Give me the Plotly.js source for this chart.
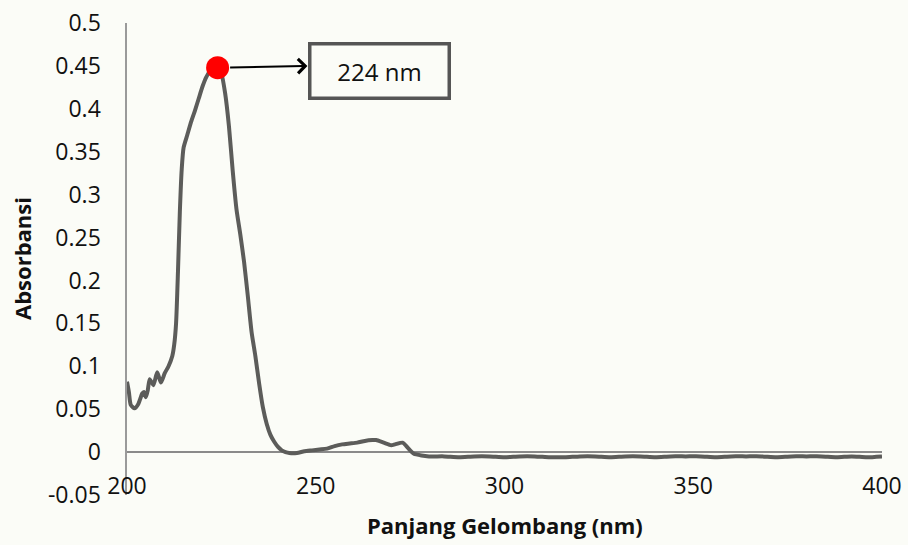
<!DOCTYPE html>
<html>
<head>
<meta charset="utf-8">
<script src="https://cdn.plot.ly/plotly-3.0.1.min.js"></script>
<style>
  html, body { margin: 0; padding: 0; background: #fbfcf7; }
  #chart { width: 908px; height: 545px; }
</style>
</head>
<body>
<div id="chart"></div>
<script>
// UV-Vis absorption spectrum
const wavelength = [
  200, 200.5, 201, 202, 203, 203.5, 204, 204.5, 205, 205.5, 206, 207, 208, 209, 210,
  211, 212, 212.5, 213, 213.5, 214, 214.5, 215, 216, 217, 218, 219, 220, 221, 222,
  223, 224, 225, 226, 227, 228, 229, 230, 231, 232, 233, 234, 235, 236, 237,
  238, 239, 240, 241, 242, 243, 245, 247, 249, 251, 253, 255, 257, 259, 261,
  263, 265, 266, 268, 270, 271, 273, 274, 275, 276, 278, 280,
  284, 288, 292, 296, 300, 304, 308, 312, 316, 320, 324, 328, 332, 336, 340,
  344, 348, 352, 356, 360, 364, 368, 372, 376, 380, 384, 388, 392, 396, 400
];
const absorbance = [
  0.082, 0.070, 0.055, 0.051, 0.056, 0.062, 0.068, 0.070, 0.064, 0.072, 0.085, 0.078, 0.093, 0.081, 0.092,
  0.100, 0.112, 0.125, 0.150, 0.210, 0.280, 0.330, 0.355, 0.370, 0.385, 0.398, 0.412, 0.426, 0.437, 0.444,
  0.447, 0.448, 0.441, 0.418, 0.380, 0.328, 0.283, 0.254, 0.222, 0.182, 0.140, 0.112, 0.080, 0.052, 0.033,
  0.020, 0.012, 0.006, 0.002, 0.000, -0.001, -0.001, 0.001, 0.002, 0.003, 0.004, 0.007, 0.009, 0.010, 0.011,
  0.013, 0.014, 0.014, 0.011, 0.008, 0.009, 0.011, 0.007, 0.002, -0.002, -0.004, -0.005,
  -0.005, -0.006, -0.005, -0.005, -0.006, -0.005, -0.005, -0.006, -0.006, -0.005, -0.005, -0.006, -0.005, -0.005, -0.006,
  -0.005, -0.005, -0.005, -0.006, -0.005, -0.005, -0.005, -0.006, -0.005, -0.005, -0.005, -0.006, -0.005, -0.006, -0.005
];

// Absorption maximum
const peakNm = 224;
const peakAbs = 0.448;

const xTicks = [200, 250, 300, 350, 400];
const yTicks = [-0.05, 0, 0.05, 0.1, 0.15, 0.2, 0.25, 0.3, 0.35, 0.4, 0.45, 0.5];
const yTickText = ['-0.05', '0', '0.05', '0.1', '0.15', '0.2', '0.25', '0.3', '0.35', '0.4', '0.45', '0.5'];

const xTitle = 'Panjang Gelombang (nm)';
const yTitle = 'Absorbansi';

const FONT = '"Open Sans", "Noto Sans", sans-serif';
const BG = '#fbfcf7';

const spectrum = {
  x: wavelength,
  y: absorbance,
  type: 'scatter',
  mode: 'lines',
  line: { color: '#5c5c5a', width: 4, shape: 'spline', smoothing: 0.6 },
  hoverinfo: 'skip'
};

const peak = {
  x: [peakNm],
  y: [peakAbs],
  type: 'scatter',
  mode: 'markers',
  marker: { color: '#ff0000', size: 23, line: { width: 0 } },
  hoverinfo: 'skip'
};

const layout = {
  width: 908,
  height: 545,
  margin: { l: 127, r: 26, t: 23, b: 50 },
  paper_bgcolor: BG,
  plot_bgcolor: 'rgba(0,0,0,0)',
  showlegend: false,
  font: { family: FONT, size: 22, color: '#111111' },
  xaxis: {
    range: [200, 400],
    tickvals: xTicks,
    ticktext: xTicks.map(String),
    ticks: '',
    ticklabelposition: 'inside',
    ticklabeloverflow: 'allow',
    ticklabelstandoff: -7,
    showgrid: false,
    zeroline: false,
    showline: false,
    tickfont: { family: FONT, size: 23, color: '#111111' },
    automargin: false
  },
  yaxis: {
    range: [-0.05, 0.5],
    tickvals: yTicks,
    ticktext: yTickText,
    ticks: '',
    ticklabelstandoff: 20,
    showgrid: false,
    zeroline: true,
    zerolinecolor: '#8a8a8a',
    zerolinewidth: 1.6,
    showline: true,
    linecolor: '#9a9a9a',
    linewidth: 1.6,
    tickfont: { family: FONT, size: 23, color: '#111111' },
    automargin: false
  },
  annotations: [
    // axis titles
    {
      x: 0.5, y: 0, xref: 'paper', yref: 'paper',
      xanchor: 'center', yanchor: 'middle', yshift: -30,
      text: '<b>' + xTitle + '</b>', showarrow: false,
      font: { family: FONT, size: 22, color: '#111111' }
    },
    {
      x: 0, y: 0.5, xref: 'paper', yref: 'paper',
      xanchor: 'center', yanchor: 'middle', xshift: -105,
      textangle: -90,
      text: '<b>' + yTitle + '</b>', showarrow: false,
      font: { family: FONT, size: 22, color: '#111111' }
    },
    // callout box with the peak wavelength
    {
      x: peakNm + 43, y: peakAbs - 0.004,
      xref: 'x', yref: 'y',
      text: peakNm + ' nm',
      showarrow: false,
      font: { family: FONT, size: 24, color: '#111111' },
      width: 132, height: 47,
      align: 'center', valign: 'middle',
      bgcolor: BG,
      bordercolor: '#555555', borderwidth: 3.5, borderpad: 2
    },
    // arrow from the peak marker to the box
    {
      x: peakNm + 23.8, y: peakAbs + 0.002,
      xref: 'x', yref: 'y',
      ax: peakNm, ay: peakAbs,
      axref: 'x', ayref: 'y',
      text: '',
      showarrow: true,
      arrowhead: 4, arrowsize: 1.4, arrowwidth: 2,
      arrowcolor: '#000000',
      startstandoff: 11
    }
  ]
};

Plotly.newPlot('chart', [spectrum, peak], layout, { staticPlot: true, displayModeBar: false });
</script>
</body>
</html>
